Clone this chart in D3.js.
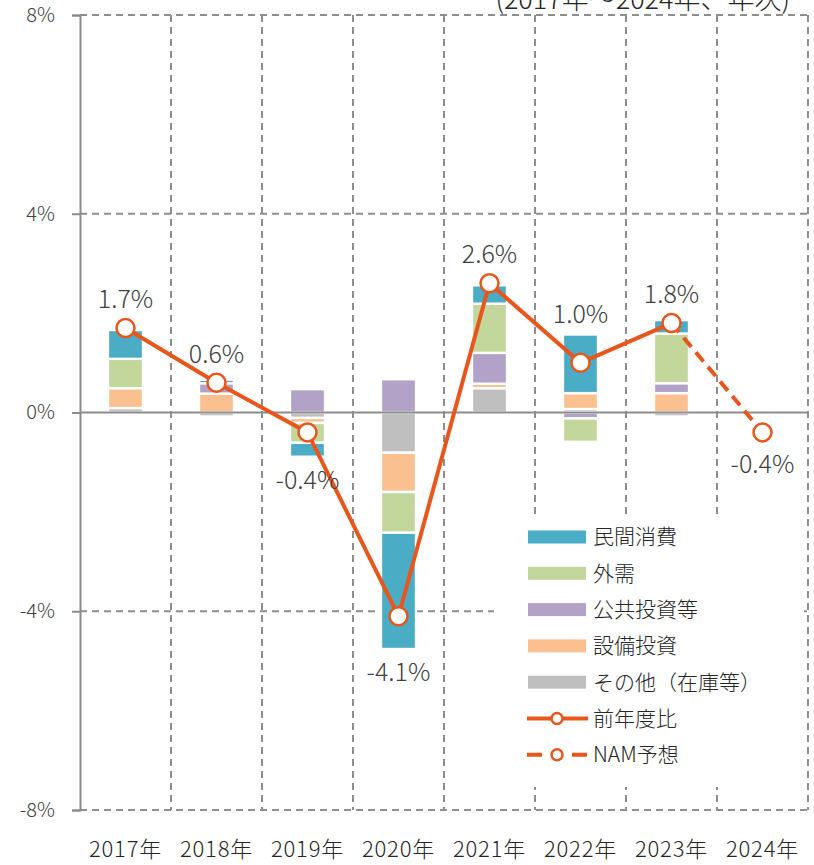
<!DOCTYPE html>
<html>
<head>
<meta charset="utf-8">
<script src="https://cdn.jsdelivr.net/npm/d3@7"></script>
<style>
  html, body { margin: 0; padding: 0; background: #fff; }
  svg { display: block; font-family: "Noto Sans CJK JP", "Noto Sans", sans-serif; }
</style>
</head>
<body>
<div id="chart"></div>
<script>
// --- data ---
const years = ["2017年", "2018年", "2019年", "2020年", "2021年", "2022年", "2023年", "2024年"];
const barYears = years.slice(0, 7);

// contribution by component (pt)
const consumption    = [0.58, 0.07, -0.28, -2.34, 0.37, 1.18, 0.27];
const externalDemand = [0.59, 0.00, -0.40, -0.82, 0.99, -0.47, 1.00];
const publicInvest   = [0.00, 0.21, 0.47, 0.67, 0.62, -0.12, 0.20];
const capex          = [0.40, 0.38, -0.10, -0.79, 0.09, 0.32, 0.39];
const others         = [0.09, -0.08, -0.11, -0.81, 0.49, 0.07, -0.08];

// year-on-year growth (%), last point is the NAM forecast
const growth = [1.7, 0.6, -0.4, -4.1, 2.6, 1.0, 1.8, -0.4];
const forecastFrom = 6; // index where the dashed forecast starts

const yTicks = [8, 4, 0, -4, -8];
const title = "(2017年〜2024年、年次)";

// legend order (top to bottom) and stacking order (from zero outward)
const legendKeys = ["民間消費", "外需", "公共投資等", "設備投資", "その他（在庫等）"];
const stackKeys = ["その他（在庫等）", "設備投資", "公共投資等", "外需", "民間消費"];
const colors = {
  "民間消費": "#4bacc6",
  "外需": "#c3d69b",
  "公共投資等": "#b3a2c7",
  "設備投資": "#fac090",
  "その他（在庫等）": "#bfbfbf"
};
const lineColor = "#e8561c";

const table = barYears.map((yr, i) => ({
  year: yr,
  "民間消費": consumption[i],
  "外需": externalDemand[i],
  "公共投資等": publicInvest[i],
  "設備投資": capex[i],
  "その他（在庫等）": others[i]
}));

// --- layout ---
const W = 814, H = 865;
const plot = {left: 80, right: 808, top: 15, bottom: 810};
const textColor = "#404040";
const gridColor = "#8e8e8e";

const svg = d3.select("#chart").append("svg")
  .attr("width", W)
  .attr("height", H);

const x = d3.scaleBand().domain(years).range([plot.left, plot.right]);
const y = d3.scaleLinear().domain([-8, 8]).range([plot.bottom, plot.top]);
const barW = x.bandwidth() * 0.385;
const cx = d => x(d) + x.bandwidth() / 2;

// title (partly cut off at top, as in the source)
svg.append("text")
  .attr("x", 790).attr("y", 9)
  .attr("text-anchor", "end")
  .attr("font-size", 27).attr("font-weight", 300)
  .attr("fill", "#262626")
  .text(title);

// grid
const grid = svg.append("g");
grid.selectAll("line.h")
  .data(yTicks.filter(v => v !== 0))
  .join("line")
  .attr("x1", plot.left).attr("x2", plot.right)
  .attr("y1", d => y(d)).attr("y2", d => y(d))
  .attr("stroke", gridColor).attr("stroke-width", 2)
  .attr("stroke-dasharray", "7,5");
grid.selectAll("line.v")
  .data(years)
  .join("line")
  .attr("x1", d => x(d) + x.bandwidth()).attr("x2", d => x(d) + x.bandwidth())
  .attr("y1", plot.top).attr("y2", plot.bottom)
  .attr("stroke", gridColor).attr("stroke-width", 2)
  .attr("stroke-dasharray", "7,5");

// y axis
const yAxis = svg.append("g")
  .attr("transform", `translate(${plot.left},0)`)
  .call(d3.axisLeft(y).tickValues(yTicks).tickFormat(d => d + "%").tickSize(8).tickPadding(17));
yAxis.select(".domain").attr("stroke", "#8c8c8c").attr("stroke-width", 2);
yAxis.selectAll(".tick line").attr("stroke", "#8c8c8c").attr("stroke-width", 2);
yAxis.selectAll(".tick text")
  .attr("fill", textColor).attr("font-size", 20).attr("font-weight", 300)
  .attr("font-family", "'Noto Sans CJK JP', sans-serif");

// x labels
svg.append("g").selectAll("text")
  .data(years)
  .join("text")
  .attr("x", d => cx(d)).attr("y", 857)
  .attr("text-anchor", "middle")
  .attr("font-size", 22).attr("font-weight", 300)
  .attr("letter-spacing", 0.8)
  .attr("fill", "#262626")
  .text(d => d);

// stacked bars
const series = d3.stack().keys(stackKeys).offset(d3.stackOffsetDiverging)(table);
svg.append("g").selectAll("g")
  .data(series)
  .join("g")
  .attr("fill", s => colors[s.key])
  .selectAll("rect")
  .data(s => s.filter(d => d[1] !== d[0]))
  .join("rect")
  .attr("x", d => cx(d.data.year) - barW / 2)
  .attr("width", barW)
  .attr("y", d => y(Math.max(d[0], d[1])))
  .attr("height", d => Math.abs(y(d[0]) - y(d[1])))
  .attr("stroke", "#fff").attr("stroke-width", 2.4);

// zero line
svg.append("line")
  .attr("x1", plot.left).attr("x2", plot.right)
  .attr("y1", y(0)).attr("y2", y(0))
  .attr("stroke", "#8c8c8c").attr("stroke-width", 2);

// legend background covers the grid
const lg = svg.append("g");
lg.append("rect")
  .attr("x", 494).attr("y", 519).attr("width", 310).attr("height", 268)
  .attr("fill", "#fff");

// growth line
const pts = growth.map((v, i) => [cx(years[i]), y(v)]);
const line = d3.line();
svg.append("path")
  .attr("d", line(pts.slice(0, forecastFrom + 1)))
  .attr("fill", "none").attr("stroke", lineColor).attr("stroke-width", 4)
  .attr("stroke-linejoin", "round");
svg.append("path")
  .attr("d", line(pts.slice(forecastFrom)))
  .attr("fill", "none").attr("stroke", lineColor).attr("stroke-width", 4)
  .attr("stroke-dasharray", "12,7");
const r = 9;
svg.append("g").selectAll("circle")
  .data(pts)
  .join("circle")
  .attr("cx", d => d[0]).attr("cy", d => d[1]).attr("r", r)
  .attr("fill", "#fff").attr("stroke", lineColor).attr("stroke-width", 2.5);

// value labels
const extentByYear = years.map((yr, i) => {
  const tops = series.map(s => s[i] ? Math.max(s[i][0], s[i][1]) : 0);
  const bots = series.map(s => s[i] ? Math.min(s[i][0], s[i][1]) : 0);
  return [d3.min(bots), d3.max(tops)];
});
svg.append("g").selectAll("text")
  .data(growth)
  .join("text")
  .attr("x", (d, i) => cx(years[i]))
  .attr("y", (d, i) => d >= 0
    ? Math.min(y(extentByYear[i][1]), y(d) - r) - 11
    : Math.max(y(extentByYear[i][0]), y(d) + r) + 32)
  .attr("text-anchor", "middle")
  .attr("font-size", 25).attr("font-weight", 300)
  .attr("fill", textColor)
  .text(d => d.toFixed(1) + "%");

// legend
const rowY = i => 537 + i * 36.3;
legendKeys.forEach((k, i) => {
  lg.append("rect")
    .attr("x", 528).attr("y", rowY(i) - 6.5).attr("width", 58).attr("height", 13)
    .attr("fill", colors[k]);
  lg.append("text")
    .attr("x", 593).attr("y", rowY(i)).attr("dy", "0.35em")
    .attr("font-size", 21).attr("font-weight", 300).attr("fill", "#262626")
    .text(k);
});
const lineItems = [["前年度比", null], ["NAM予想", "15,30"]];
lineItems.forEach(([name, dash], j) => {
  const yy = rowY(legendKeys.length + j);
  lg.append("line")
    .attr("x1", 527).attr("x2", 588).attr("y1", yy).attr("y2", yy)
    .attr("stroke", lineColor).attr("stroke-width", 4)
    .attr("stroke-dasharray", dash);
  lg.append("circle")
    .attr("cx", 557).attr("cy", yy).attr("r", 5.5)
    .attr("fill", "#fff").attr("stroke", lineColor).attr("stroke-width", 2.5);
  lg.append("text")
    .attr("x", 593).attr("y", yy).attr("dy", "0.35em")
    .attr("font-size", 21).attr("font-weight", 300).attr("fill", "#262626")
    .text(name);
});
</script>
</body>
</html>
